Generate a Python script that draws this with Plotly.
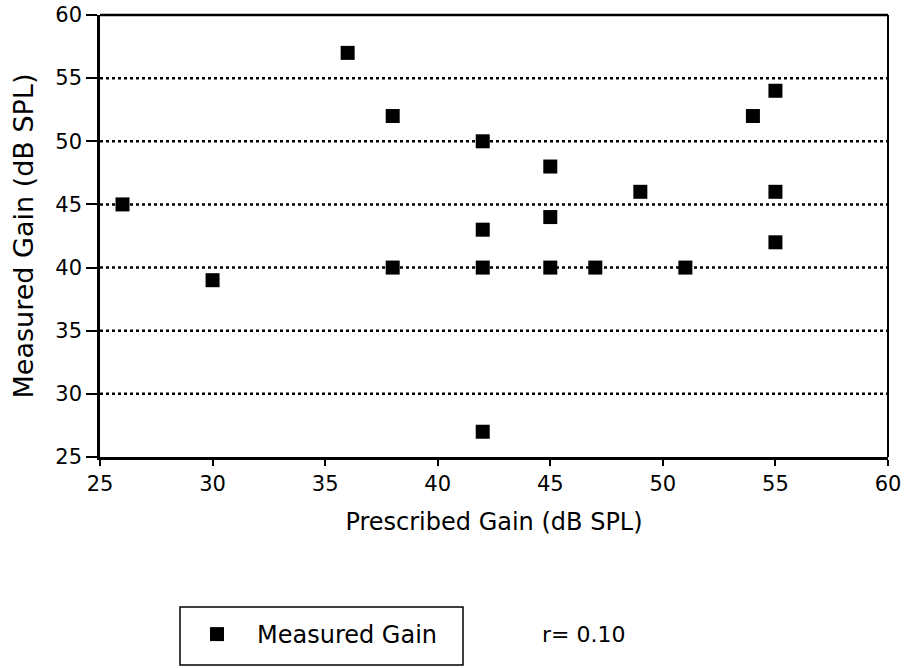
import plotly.graph_objects as go

prescribed = [26, 30, 36, 38, 38, 42, 42, 42, 42, 45, 45, 45, 47, 49, 51, 54, 55, 55, 55]
measured   = [45, 39, 57, 52, 40, 50, 43, 40, 27, 48, 44, 40, 40, 46, 40, 52, 54, 46, 42]
grid_vals = [30, 35, 40, 45, 50, 55]
x_ticks = [25, 30, 35, 40, 45, 50, 55, 60]
y_ticks = [25, 30, 35, 40, 45, 50, 55, 60]
r_value = "r= 0.10"
series_name = "Measured Gain"
x_title = "Prescribed Gain (dB SPL)"
y_title = "Measured Gain (dB SPL)"

FONT = "DejaVu Sans"

W, H = 906, 668
L, R, T, B = 100, 18, 15, 211
PW = W - L - R
PH = H - T - B


def px(fx):
    return (fx - L) / PW


def py(fy):
    return (H - B - fy) / PH


fig = go.Figure()
fig.add_trace(go.Scatter(
    x=prescribed, y=measured, mode="markers", name=series_name,
    marker=dict(symbol="square", size=14, color="black", line=dict(width=0)),
    cliponaxis=False,
))

for g in grid_vals:
    fig.add_shape(type="line", xref="paper", x0=0, x1=1, yref="y", y0=g, y1=g,
                  line=dict(color="black", width=2.5, dash="3px,3px"), layer="below")

# frame top/right
fig.add_shape(type="line", xref="paper", yref="paper", x0=0, x1=1, y0=1, y1=1,
              line=dict(color="black", width=2.5))
fig.add_shape(type="line", xref="paper", yref="paper", x0=1, x1=1, y0=0, y1=1,
              line=dict(color="black", width=2))

# legend box
fig.add_shape(type="rect", xref="paper", yref="paper",
              x0=px(180), x1=px(463), y0=py(665), y1=py(607),
              line=dict(color="black", width=1.5))

fig.add_annotation(text=r_value, xref="paper", yref="paper",
                   x=px(540), y=py(634), xanchor="left", yanchor="middle",
                   showarrow=False, font=dict(family=FONT, size=22, color="black"))

fig.update_layout(
    width=W, height=H,
    margin=dict(l=L, r=R, t=T, b=B, autoexpand=False),
    paper_bgcolor="white", plot_bgcolor="white",
    font=dict(family=FONT, size=21, color="black"),
    showlegend=True,
    legend=dict(x=px(177), y=py(612), xanchor="left", yanchor="top",
                bgcolor="rgba(0,0,0,0)", borderwidth=0, itemwidth=70,
                font=dict(family=FONT, size=24, color="black")),
    xaxis=dict(range=[25, 60], tickvals=x_ticks, ticks="outside", ticklen=6, tickwidth=2,
               tickcolor="black", showgrid=False, zeroline=False, showline=True,
               linecolor="black", linewidth=3, automargin=False, ticklabelstandoff=0,
               ticklabeloverflow="allow",
               tickfont=dict(family=FONT, size=21),
               title=dict(text=x_title, standoff=18, font=dict(family=FONT, size=24))),
    yaxis=dict(range=[25, 60], tickvals=y_ticks, ticks="outside", ticklen=11, tickwidth=2,
               tickcolor="black", showgrid=False, zeroline=False, showline=True,
               linecolor="black", linewidth=2.5, automargin=False,
               ticklabeloverflow="allow",
               tickfont=dict(family=FONT, size=21),
               title=dict(text=y_title, standoff=14, font=dict(family=FONT, size=27))),
)

fig.write_html("out.html", config={"displayModeBar": False},
               post_script="document.body.style.margin='0';")
